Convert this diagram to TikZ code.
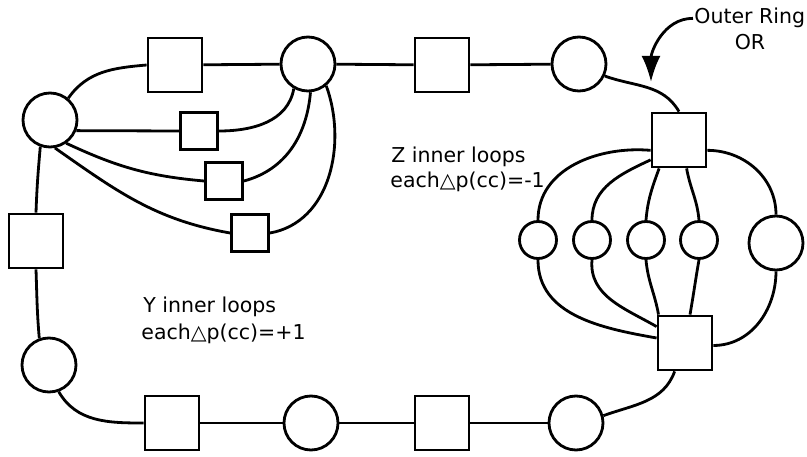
\documentclass[tikz,border=0pt]{standalone}
\usepackage{fontspec}
\setmainfont{DejaVu Sans}
\usepackage{tikz}
\usetikzlibrary{arrows.meta,positioning}

\begin{document}
\begin{tikzpicture}[x=1pt,y=1pt,
  font=\fontsize{20.5}{25}\selectfont, line width=2.8pt,
  ringc/.style={circle,draw,inner sep=0pt,minimum size=54pt},
  ringsq/.style={rectangle,draw,inner sep=0pt,minimum size=54pt},
  loopc/.style={circle,draw,inner sep=0pt,minimum size=37pt},
  loopsq/.style={rectangle,draw,inner sep=0pt,minimum size=37pt},
  lbl/.style={inner sep=0pt,anchor=base west},
  arr/.style={-{Latex[length=26pt,width=19pt]}}]
\useasboundingbox (0,0) rectangle (807,456);
% outer ring
\node[ringc]  (cl)  at (50,336)  {};
\node[ringsq] (st1) at (175,391) {};
\node[ringc]  (ct1) at (308,392) {};
\node[ringsq] (st2) at (442,391) {};
\node[ringc]  (ct2) at (579,392) {};
\node[ringsq] (srt) at (679,316) {};
\node[ringsq] (srb) at (685,113) {};
\node[ringc]  (cb2) at (576,33)  {};
\node[ringsq] (sb2) at (442,33)  {};
\node[ringc]  (cb1) at (311,33)  {};
\node[ringsq] (sb1) at (172,33)  {};
\node[ringc]  (cbl) at (49,91)   {};
\node[ringsq] (sl)  at (36,215)  {};
% Y inner loops
\node[loopsq] (ya) at (199,325) {};
\node[loopsq] (yb) at (224,275) {};
\node[loopsq] (yc) at (250,223) {};
% Z inner loops
\foreach \n/\x in {za/538,zb/592,zc/646,zd/699}{\node[loopc] (\n) at (\x,216) {};}
\node[ringc] (ze) at (776,213) {};
% ring connectors
\draw (cl.50) to[out=55,in=185] (st1.west);
\foreach \a/\b in {st1/ct1,ct1/st2,st2/ct2,cb2/sb2,sb2/cb1,cb1/sb1}{\draw (\a)--(\b);}
\draw (ct2.-25) to[out=-20,in=120] (srt.north);
\draw (srb.250) to[out=-110,in=20] (cb2.15);
\draw (cbl.-70) to[out=-60,in=180] (sb1.west);
\draw (sl.south) to[out=-88,in=95] (cbl.110);
\draw (cl.250) to[out=-95,in=88] (sl.north);
% Z loops
\draw (srt.200) to[out=175,in=90] (za.north);
\draw (srt.215) to[out=205,in=90] (zb.north);
\draw (srt.235) to[out=250,in=85] (zc.north);
\draw (srt.285) to[out=-80,in=95] (zd.north);
\draw (srt.-20) to[out=0,in=90] (ze.north);
\draw (za.south) to[out=-90,in=170] (srb.170);
\draw (zb.south) to[out=-95,in=150] (srb.150);
\draw (zc.south) to[out=-85,in=100] (srb.133);
\draw (zd.south) to[out=-100,in=80] (srb.80);
\draw (ze.south) to[out=-90,in=0] (srb.-5);
% Y loops
\draw (cl.-22) -- (ya.west);
\draw (cl.-55) to[out=-25,in=175] (yb.west);
\draw (cl.-80) to[out=-35,in=170] (yc.west);
\draw (ct1.240) to[out=-100,in=0] (ya.east);
\draw (ct1.-85) to[out=-95,in=15] (yb.east);
\draw (ct1.-50) to[out=-70,in=10] (yc.east);
% labels
\node[lbl] (zl1) at (390,293) {Z inner loops};
\node[lbl] (zl2) at (389,268) {each△p(cc)=-1};
\node[lbl] (yl1) at (142,143) {Y inner loops};
\node[lbl] (yl2) at (140,117) {each△p(cc)=+1};
\node[lbl] (ring) at (693,432) {Outer Ring};
\node[inner sep=0pt,anchor=base] (orn) at (750,406) {OR};
\coordinate (tip) at (651,374);
\draw[arr] (ring.west) to[out=180,in=90] (tip);
\end{tikzpicture}
\end{document}
